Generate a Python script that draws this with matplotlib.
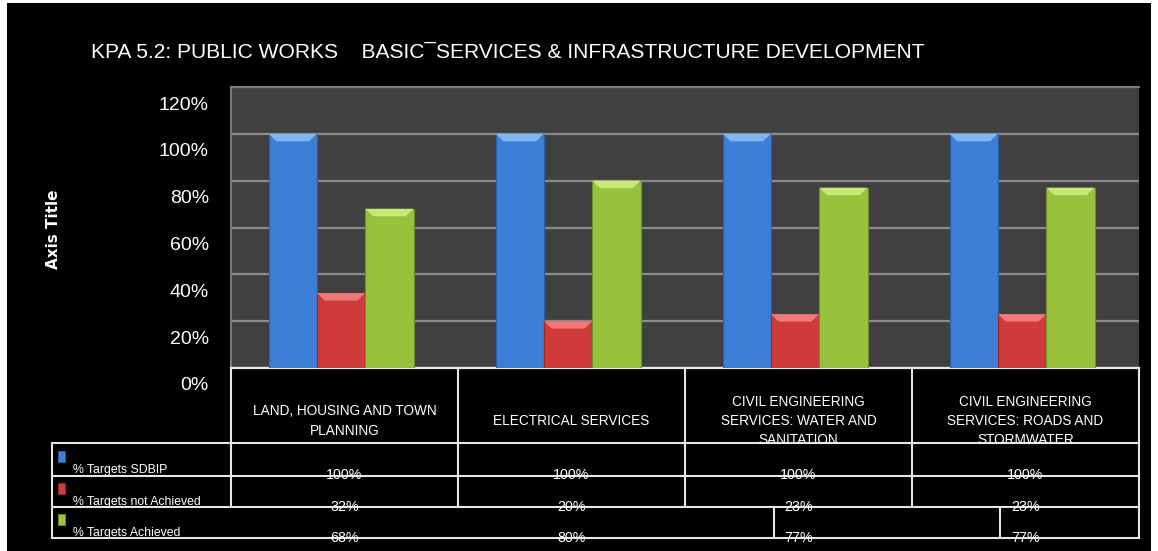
import matplotlib
matplotlib.use("Agg")
import matplotlib.pyplot as plt
import matplotlib.transforms as mtransforms
from matplotlib.patches import Rectangle, Polygon
from matplotlib.lines import Line2D
import numpy as np

# chart data
categories = ["LAND, HOUSING AND TOWN\nPLANNING",
              "ELECTRICAL SERVICES",
              "CIVIL ENGINEERING\nSERVICES: WATER AND\nSANITATION",
              "CIVIL ENGINEERING\nSERVICES: ROADS AND\nSTORMWATER"]
series_names = ["% Targets SDBIP", "% Targets not Achieved", "% Targets Achieved"]
targets_sdbip = [1.00, 1.00, 1.00, 1.00]
not_achieved = [0.32, 0.20, 0.23, 0.23]
achieved = [0.68, 0.80, 0.77, 0.77]
yticks = [0, 0.2, 0.4, 0.6, 0.8, 1.0, 1.2]

series = [targets_sdbip, not_achieved, achieved]
face = ["#3d7ed6", "#cf3a3a", "#98c23d"]
light = ["#7db6f2", "#f07a7a", "#c8e878"]
dark = ["#2a5ea8", "#9c2727", "#6f9128"]

W, H = 1158, 551
plt.rcParams["font.family"] = ["Liberation Sans", "DejaVu Sans"]

fig = plt.figure(figsize=(W / 100, H / 100), dpi=100, facecolor="white")


def fx(px):
    return px / W


def fy(py):
    return 1 - py / H


# black chart area
fig.add_artist(Rectangle((fx(7), fy(551)), fx(1151) - fx(7), fy(3) - fy(551),
                         transform=fig.transFigure, facecolor="black", edgecolor="none", zorder=-5))

left, right, top, bottom = 231, 1139, 87, 368
ax = fig.add_axes([fx(left), fy(bottom), fx(right) - fx(left), fy(top) - fy(bottom)])
ax.set_facecolor("#404040")

x = np.arange(len(categories)) - 0.015
bw = 0.213
for i, vals in enumerate(series):
    bars = ax.bar(x + (i - 1) * bw, vals, bw, color=face[i], edgecolor=dark[i],
                  linewidth=0.8, zorder=3)
    # bevelled top on every bar
    for p in bars.patches:
        x0 = p.get_x()
        x1 = x0 + p.get_width()
        t = p.get_height()
        cap = 0.032
        inset = 0.035
        ax.add_patch(Polygon([(x0, t), (x1, t), (x1 - inset, t - cap), (x0 + inset, t - cap)],
                             closed=True, facecolor=light[i], edgecolor="none", zorder=4))

ax.set_xlim(-0.5, len(categories) - 0.5)
ax.set_ylim(0, 1.2)
ax.set_yticks(yticks)
ax.set_yticklabels(["{:.0f}%".format(v * 100) for v in yticks])
ax.set_xticks([])
ax.tick_params(axis="y", length=0, pad=16, labelsize=14, labelcolor="white")
ax.yaxis.grid(True, color="#8a8a8a", linewidth=1.6, zorder=0)
ax.set_axisbelow(True)
for s in ["left", "right", "top"]:
    ax.spines[s].set_color("#7a7a7a")
    ax.spines[s].set_linewidth(1.5)
ax.spines["right"].set_visible(False)
ax.spines["bottom"].set_color("#e8e8e8")
ax.spines["bottom"].set_linewidth(1.6)

# tick labels sit a little below their gridlines
offset = mtransforms.ScaledTranslation(0, -16 / 100, fig.dpi_scale_trans)
for lab in ax.get_yticklabels():
    lab.set_transform(lab.get_transform() + offset)

fig.text(fx(91), fy(53), "KPA 5.2: PUBLIC WORKS    BASIC\u00afSERVICES & INFRASTRUCTURE DEVELOPMENT",
         color="white", fontsize=15.1, va="center", ha="left")
fig.text(fx(54), fy(229), "Axis Title", rotation=90, color="white", fontsize=11,
         fontweight="bold", family=["DejaVu Sans"], ha="center", va="center")

# data table under the plot
lc = "#e6e6e6"


def hline(py, x0, x1):
    fig.add_artist(Line2D([fx(x0), fx(x1)], [fy(py), fy(py)], transform=fig.transFigure,
                          color=lc, linewidth=1.5))


def vline(px, y0, y1):
    fig.add_artist(Line2D([fx(px), fx(px)], [fy(y0), fy(y1)], transform=fig.transFigure,
                          color=lc, linewidth=1.5))


col_edges = [left + k * (right - left) / len(categories) for k in range(len(categories) + 1)]
row_lines = [443, 476, 507, 538]
for py in row_lines:
    hline(py, 52, right)
vline(52, 443, 538)
for cx in col_edges[:-1]:
    vline(cx, bottom, 507)
vline(right, bottom, 538)
vline(774, 507, 538)
vline(1000, 507, 538)

for k, name in enumerate(categories):
    cx = (col_edges[k] + col_edges[k + 1]) / 2
    fig.text(fx(cx), fy(421), name, color="white", fontsize=9.8, ha="center", va="center",
             multialignment="center", linespacing=1.5)

value_rows = [475, 507, 538]
for i, vals in enumerate(series):
    for k, v in enumerate(vals):
        cx = (col_edges[k] + col_edges[k + 1]) / 2
        fig.text(fx(cx), fy(value_rows[i]), "{:.0f}%".format(v * 100), color="white",
                 fontsize=10.3, ha="center", va="center")
    fig.text(fx(73), fy(value_rows[i] - 5), series_names[i], color="white", fontsize=8.8,
             ha="left", va="center")
    my = value_rows[i] - 18
    fig.add_artist(Rectangle((fx(58), fy(my + 5)), fx(7), 11 / H,
                             transform=fig.transFigure, facecolor=face[i], edgecolor=dark[i],
                             linewidth=0.6))

fig.savefig("out.png", dpi=100, facecolor="white")
